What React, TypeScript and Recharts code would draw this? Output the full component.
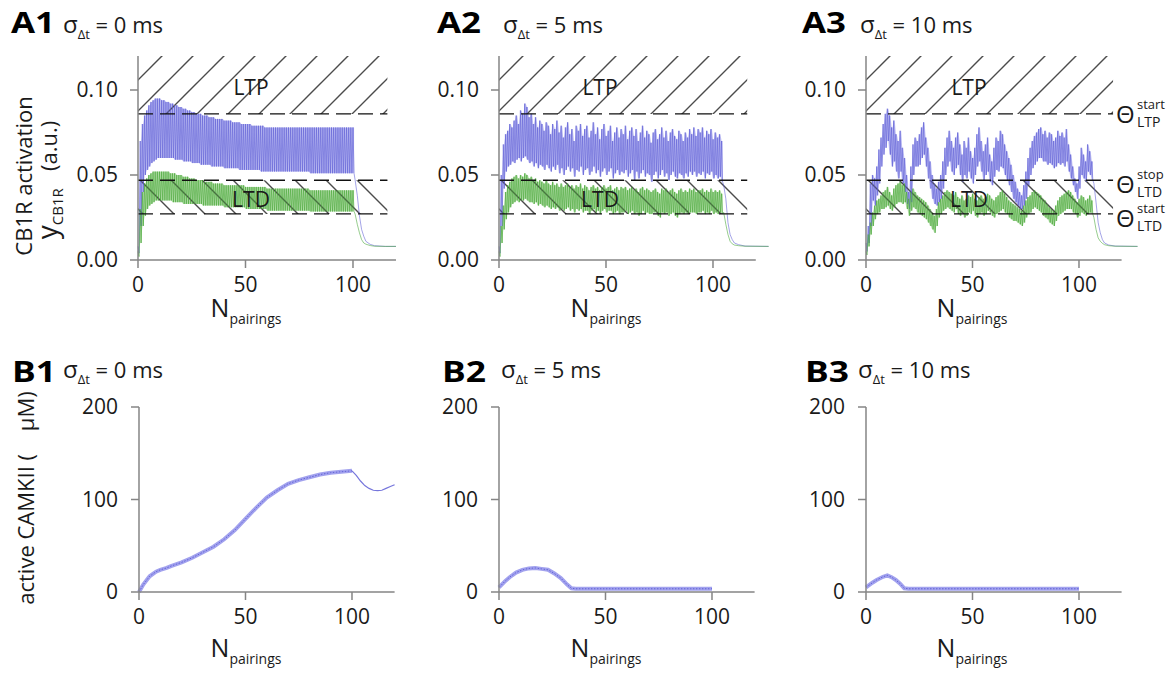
import React from "react"
import { ComposedChart, Line, Area, XAxis, YAxis, ReferenceArea, ReferenceLine } from "recharts"

const FONT = "'Open Sans', 'DejaVu Sans', sans-serif"
const BLUE = "#5c5cd4"
const BLUE_BAND = "#aeaef0"
const GREEN = "#45a534"
const GREEN_BAND = "#a6d79a"
const AXIS = "#858585"
const INK = "#1a1a1a"

// thresholds of the CB1R activation (a.u.)
const THETA_LTP_START = 0.0859
const THETA_LTD_STOP = 0.0469
const THETA_LTD_START = 0.0271

const A_Y_TICKS = [0, 0.05, 0.1]
const B_Y_TICKS = [0, 100, 200]
const X_TICKS = [0, 50, 100]

// ---- A1, sigma = 0 ms : peak / trough of each pairing ----
const A1_BLUE_HI = [
  0.008, 0.070, 0.080, 0.085, 0.088, 0.091, 0.093, 0.094, 0.095, 0.095,
  0.095, 0.094, 0.094, 0.093, 0.093, 0.092, 0.092, 0.091, 0.091, 0.090,
  0.090, 0.089, 0.089, 0.088, 0.088, 0.087, 0.087, 0.086, 0.086, 0.086,
  0.085, 0.085, 0.085, 0.084, 0.084, 0.084, 0.083, 0.083, 0.083, 0.083,
  0.082, 0.082, 0.082, 0.082, 0.081, 0.081, 0.081, 0.081, 0.080, 0.080,
  0.080, 0.080, 0.080, 0.079, 0.079, 0.079, 0.079, 0.079, 0.079, 0.078,
  0.078, 0.078, 0.078, 0.078, 0.078, 0.078, 0.078, 0.078, 0.078, 0.078,
  0.078, 0.078, 0.078, 0.078, 0.078, 0.078, 0.078, 0.078, 0.078, 0.078,
  0.078, 0.078, 0.078, 0.078, 0.078, 0.078, 0.078, 0.078, 0.078, 0.078,
  0.078, 0.078, 0.078, 0.078, 0.078, 0.078, 0.078, 0.078, 0.078, 0.078,
  0.078,
]
const A1_BLUE_LO = [
  0.004, 0.020, 0.040, 0.050, 0.053, 0.055, 0.057, 0.058, 0.059, 0.060,
  0.060, 0.060, 0.060, 0.060, 0.060, 0.060, 0.060, 0.059, 0.059, 0.059,
  0.059, 0.058, 0.058, 0.058, 0.058, 0.057, 0.057, 0.057, 0.057, 0.056,
  0.056, 0.056, 0.056, 0.056, 0.055, 0.055, 0.055, 0.055, 0.055, 0.055,
  0.054, 0.054, 0.054, 0.054, 0.054, 0.054, 0.054, 0.053, 0.053, 0.053,
  0.053, 0.053, 0.053, 0.053, 0.053, 0.053, 0.053, 0.052, 0.052, 0.052,
  0.052, 0.052, 0.052, 0.052, 0.052, 0.052, 0.052, 0.052, 0.052, 0.052,
  0.052, 0.052, 0.052, 0.052, 0.052, 0.052, 0.052, 0.052, 0.052, 0.052,
  0.051, 0.051, 0.051, 0.051, 0.051, 0.051, 0.051, 0.051, 0.051, 0.051,
  0.051, 0.051, 0.051, 0.051, 0.051, 0.051, 0.051, 0.051, 0.051, 0.051,
  0.051,
]
const A1_GREEN_HI = [
  0.005, 0.030, 0.040, 0.045, 0.048, 0.050, 0.051, 0.052, 0.052, 0.052,
  0.052, 0.052, 0.052, 0.052, 0.052, 0.051, 0.051, 0.051, 0.050, 0.050,
  0.050, 0.049, 0.049, 0.049, 0.048, 0.048, 0.048, 0.047, 0.047, 0.047,
  0.047, 0.046, 0.046, 0.046, 0.046, 0.045, 0.045, 0.045, 0.045, 0.045,
  0.044, 0.044, 0.044, 0.044, 0.044, 0.044, 0.044, 0.044, 0.044, 0.044,
  0.043, 0.043, 0.043, 0.043, 0.043, 0.043, 0.043, 0.043, 0.043, 0.043,
  0.042, 0.042, 0.042, 0.042, 0.042, 0.042, 0.042, 0.042, 0.042, 0.042,
  0.042, 0.042, 0.042, 0.042, 0.042, 0.042, 0.042, 0.042, 0.042, 0.042,
  0.041, 0.041, 0.041, 0.041, 0.041, 0.041, 0.041, 0.041, 0.041, 0.041,
  0.041, 0.041, 0.041, 0.041, 0.041, 0.041, 0.041, 0.041, 0.041, 0.041,
  0.041,
]
const A1_GREEN_LO = [
  0.002, 0.010, 0.020, 0.026, 0.030, 0.032, 0.033, 0.034, 0.035, 0.035,
  0.035, 0.035, 0.035, 0.035, 0.035, 0.035, 0.034, 0.034, 0.034, 0.034,
  0.034, 0.033, 0.033, 0.033, 0.033, 0.033, 0.033, 0.033, 0.033, 0.033,
  0.032, 0.032, 0.032, 0.032, 0.032, 0.032, 0.032, 0.032, 0.032, 0.032,
  0.031, 0.031, 0.031, 0.031, 0.031, 0.031, 0.031, 0.031, 0.031, 0.031,
  0.030, 0.030, 0.030, 0.030, 0.030, 0.030, 0.030, 0.030, 0.030, 0.030,
  0.029, 0.029, 0.029, 0.029, 0.029, 0.029, 0.029, 0.029, 0.029, 0.029,
  0.029, 0.029, 0.029, 0.029, 0.029, 0.029, 0.029, 0.029, 0.029, 0.029,
  0.0285, 0.0285, 0.0285, 0.0285, 0.0285, 0.0285, 0.0285, 0.0285, 0.0285, 0.0285,
  0.0285, 0.0285, 0.0285, 0.0285, 0.0285, 0.0285, 0.0285, 0.0285, 0.0285, 0.0285,
  0.0285,
]
const A1_TAIL_X = [101, 102, 103, 104, 105, 106, 108, 110, 115, 120]
const A1_TAIL_BLUE = [0.047, 0.038, 0.026, 0.018, 0.014, 0.011, 0.0092, 0.0084, 0.008, 0.008]
const A1_TAIL_GREEN = [0.027, 0.021, 0.016, 0.012, 0.010, 0.0093, 0.0085, 0.0081, 0.008, 0.008]

// ---- A2, sigma = 5 ms ----
const A2_BLUE_HI = [
  0.008, 0.050, 0.068, 0.074, 0.076, 0.080, 0.078, 0.082, 0.085, 0.080,
  0.088, 0.086, 0.092, 0.090, 0.084, 0.086, 0.080, 0.084, 0.078, 0.082,
  0.080, 0.076, 0.081, 0.079, 0.074, 0.080, 0.077, 0.082, 0.075, 0.079,
  0.072, 0.078, 0.081, 0.074, 0.077, 0.070, 0.079, 0.076, 0.080, 0.073,
  0.077, 0.079, 0.072, 0.076, 0.081, 0.074, 0.078, 0.071, 0.077, 0.080,
  0.073, 0.076, 0.079, 0.070, 0.075, 0.078, 0.072, 0.077, 0.074, 0.079,
  0.071, 0.076, 0.078, 0.073, 0.077, 0.070, 0.075, 0.079, 0.072, 0.076,
  0.074, 0.069, 0.075, 0.077, 0.071, 0.074, 0.078, 0.072, 0.076, 0.070,
  0.075, 0.077, 0.073, 0.071, 0.076, 0.074, 0.070, 0.075, 0.072, 0.077,
  0.074, 0.078, 0.073, 0.077, 0.075, 0.078, 0.072, 0.076, 0.074, 0.077,
  0.071, 0.075, 0.072, 0.074, 0.070,
]
const A2_BLUE_LO = [
  0.004, 0.020, 0.042, 0.052, 0.055, 0.056, 0.058, 0.057, 0.059, 0.060,
  0.058, 0.060, 0.061, 0.059, 0.057, 0.058, 0.055, 0.057, 0.054, 0.056,
  0.055, 0.053, 0.056, 0.054, 0.052, 0.055, 0.053, 0.056, 0.051, 0.054,
  0.050, 0.053, 0.055, 0.052, 0.054, 0.049, 0.053, 0.052, 0.055, 0.050,
  0.053, 0.054, 0.050, 0.052, 0.055, 0.051, 0.053, 0.049, 0.052, 0.054,
  0.050, 0.052, 0.054, 0.048, 0.051, 0.053, 0.050, 0.052, 0.051, 0.053,
  0.049, 0.051, 0.053, 0.047, 0.052, 0.048, 0.051, 0.053, 0.049, 0.051,
  0.050, 0.046, 0.050, 0.052, 0.048, 0.050, 0.053, 0.049, 0.051, 0.047,
  0.050, 0.052, 0.049, 0.048, 0.051, 0.050, 0.048, 0.051, 0.049, 0.052,
  0.050, 0.052, 0.049, 0.051, 0.050, 0.052, 0.048, 0.051, 0.050, 0.052,
  0.048, 0.050, 0.048, 0.049, 0.046,
]
const A2_GREEN_HI = [
  0.005, 0.020, 0.032, 0.040, 0.044, 0.046, 0.048, 0.049, 0.050, 0.048,
  0.050, 0.049, 0.051, 0.050, 0.048, 0.049, 0.047, 0.048, 0.046, 0.047,
  0.046, 0.045, 0.047, 0.045, 0.044, 0.046, 0.044, 0.045, 0.043, 0.045,
  0.043, 0.044, 0.045, 0.043, 0.044, 0.042, 0.044, 0.043, 0.045, 0.042,
  0.044, 0.043, 0.041, 0.043, 0.044, 0.042, 0.043, 0.041, 0.043, 0.044,
  0.042, 0.043, 0.044, 0.041, 0.042, 0.043, 0.041, 0.043, 0.042, 0.043,
  0.041, 0.042, 0.043, 0.041, 0.042, 0.040, 0.042, 0.043, 0.041, 0.042,
  0.041, 0.040, 0.041, 0.042, 0.040, 0.039, 0.042, 0.041, 0.042, 0.040,
  0.041, 0.042, 0.040, 0.039, 0.041, 0.042, 0.040, 0.041, 0.040, 0.042,
  0.041, 0.042, 0.040, 0.041, 0.041, 0.042, 0.040, 0.041, 0.040, 0.042,
  0.040, 0.041, 0.040, 0.041, 0.039,
]
const A2_GREEN_LO = [
  0.002, 0.010, 0.018, 0.024, 0.028, 0.031, 0.033, 0.034, 0.035, 0.034,
  0.035, 0.035, 0.036, 0.035, 0.034, 0.034, 0.033, 0.034, 0.032, 0.033,
  0.032, 0.031, 0.032, 0.031, 0.030, 0.031, 0.030, 0.031, 0.029, 0.030,
  0.029, 0.030, 0.031, 0.029, 0.030, 0.028, 0.030, 0.029, 0.030, 0.028,
  0.029, 0.029, 0.027, 0.029, 0.030, 0.028, 0.029, 0.027, 0.029, 0.030,
  0.028, 0.029, 0.029, 0.027, 0.028, 0.029, 0.027, 0.028, 0.028, 0.029,
  0.027, 0.028, 0.029, 0.027, 0.028, 0.026, 0.027, 0.029, 0.027, 0.028,
  0.027, 0.027, 0.028, 0.028, 0.026, 0.025, 0.028, 0.027, 0.028, 0.026,
  0.027, 0.028, 0.026, 0.025, 0.027, 0.028, 0.027, 0.028, 0.027, 0.028,
  0.028, 0.028, 0.027, 0.028, 0.028, 0.029, 0.027, 0.028, 0.027, 0.029,
  0.027, 0.028, 0.027, 0.028, 0.027,
]
const A2_TAIL_X = [105, 106, 107, 108, 109, 110, 112, 115, 126]
const A2_TAIL_BLUE = [0.044, 0.036, 0.022, 0.015, 0.012, 0.010, 0.009, 0.0082, 0.008]
const A2_TAIL_GREEN = [0.028, 0.021, 0.015, 0.011, 0.0095, 0.0088, 0.0084, 0.0081, 0.008]

// ---- A3, sigma = 10 ms ----
const A3_BLUE_HI = [
  0.010, 0.020, 0.045, 0.050, 0.048, 0.055, 0.065, 0.072, 0.080, 0.086,
  0.089, 0.085, 0.078, 0.082, 0.074, 0.070, 0.076, 0.066, 0.060, 0.050,
  0.040, 0.055, 0.068, 0.072, 0.070, 0.074, 0.078, 0.081, 0.072, 0.066,
  0.058, 0.050, 0.045, 0.042, 0.046, 0.050, 0.058, 0.066, 0.072, 0.076,
  0.070, 0.066, 0.072, 0.075, 0.068, 0.062, 0.070, 0.066, 0.072, 0.064,
  0.060, 0.066, 0.074, 0.078, 0.070, 0.064, 0.068, 0.072, 0.062, 0.058,
  0.066, 0.072, 0.070, 0.076, 0.074, 0.068, 0.064, 0.060, 0.056, 0.050,
  0.046, 0.042, 0.040, 0.038, 0.044, 0.052, 0.060, 0.066, 0.070, 0.073,
  0.075, 0.077, 0.078, 0.074, 0.076, 0.072, 0.075, 0.074, 0.070, 0.072,
  0.076, 0.073, 0.075, 0.072, 0.077, 0.068, 0.062, 0.055, 0.048, 0.045,
  0.055, 0.066, 0.062, 0.058, 0.068, 0.064, 0.058,
]
const A3_BLUE_LO = [
  0.005, 0.010, 0.020, 0.035, 0.032, 0.038, 0.045, 0.055, 0.062, 0.066,
  0.070, 0.062, 0.055, 0.058, 0.052, 0.048, 0.052, 0.045, 0.040, 0.033,
  0.030, 0.034, 0.050, 0.055, 0.055, 0.056, 0.060, 0.062, 0.055, 0.048,
  0.042, 0.036, 0.033, 0.032, 0.034, 0.036, 0.042, 0.050, 0.055, 0.058,
  0.052, 0.050, 0.054, 0.056, 0.050, 0.046, 0.050, 0.048, 0.052, 0.048,
  0.045, 0.050, 0.055, 0.058, 0.052, 0.047, 0.050, 0.052, 0.046, 0.044,
  0.049, 0.053, 0.052, 0.055, 0.054, 0.050, 0.047, 0.044, 0.040, 0.036,
  0.034, 0.032, 0.030, 0.030, 0.032, 0.036, 0.044, 0.050, 0.054, 0.056,
  0.058, 0.060, 0.060, 0.058, 0.058, 0.056, 0.057, 0.056, 0.054, 0.055,
  0.057, 0.056, 0.057, 0.055, 0.058, 0.052, 0.048, 0.044, 0.040, 0.036,
  0.042, 0.050, 0.048, 0.046, 0.052, 0.050, 0.047,
]
const A3_GREEN_HI = [
  0.005, 0.015, 0.022, 0.028, 0.032, 0.035, 0.036, 0.038, 0.040, 0.041,
  0.043, 0.040, 0.038, 0.042, 0.044, 0.045, 0.046, 0.044, 0.045, 0.040,
  0.036, 0.040, 0.042, 0.040, 0.038, 0.037, 0.036, 0.035, 0.034, 0.032,
  0.030, 0.028, 0.026, 0.030, 0.034, 0.036, 0.038, 0.040, 0.041, 0.040,
  0.039, 0.038, 0.040, 0.037, 0.036, 0.038, 0.035, 0.036, 0.038, 0.037,
  0.039, 0.036, 0.035, 0.037, 0.038, 0.036, 0.037, 0.039, 0.038, 0.036,
  0.035, 0.037, 0.038, 0.040, 0.041, 0.039, 0.037, 0.035, 0.034, 0.033,
  0.032, 0.031, 0.030, 0.029, 0.032, 0.035, 0.037, 0.038, 0.040, 0.041,
  0.040, 0.039, 0.038, 0.036, 0.035, 0.033, 0.031, 0.030, 0.029, 0.032,
  0.035, 0.037, 0.038, 0.039, 0.040, 0.041, 0.040, 0.038, 0.036, 0.034,
  0.036, 0.038, 0.037, 0.035, 0.036, 0.038, 0.035,
]
const A3_GREEN_LO = [
  0.003, 0.008, 0.015, 0.020, 0.024, 0.027, 0.028, 0.030, 0.030, 0.031,
  0.032, 0.030, 0.029, 0.031, 0.033, 0.034, 0.034, 0.033, 0.034, 0.030,
  0.026, 0.029, 0.031, 0.030, 0.028, 0.027, 0.026, 0.025, 0.024, 0.022,
  0.020, 0.018, 0.016, 0.020, 0.025, 0.027, 0.029, 0.030, 0.031, 0.030,
  0.029, 0.028, 0.030, 0.027, 0.026, 0.028, 0.025, 0.026, 0.028, 0.027,
  0.029, 0.026, 0.025, 0.027, 0.028, 0.026, 0.027, 0.029, 0.028, 0.026,
  0.025, 0.027, 0.028, 0.029, 0.030, 0.028, 0.027, 0.025, 0.024, 0.023,
  0.023, 0.022, 0.021, 0.020, 0.022, 0.025, 0.027, 0.028, 0.030, 0.031,
  0.030, 0.029, 0.028, 0.026, 0.025, 0.024, 0.022, 0.021, 0.020, 0.023,
  0.026, 0.027, 0.028, 0.029, 0.030, 0.030, 0.030, 0.028, 0.027, 0.025,
  0.026, 0.028, 0.027, 0.026, 0.027, 0.028, 0.027,
]
const A3_TAIL_X = [107, 108, 109, 110, 111, 112, 114, 117, 127.5]
const A3_TAIL_BLUE = [0.045, 0.034, 0.022, 0.016, 0.012, 0.010, 0.0088, 0.0082, 0.008]
const A3_TAIL_GREEN = [0.025, 0.018, 0.013, 0.011, 0.0098, 0.009, 0.0084, 0.0081, 0.008]

// ---- B: active CaMKII (uM) ----
const B1_X = [0, 2, 5, 8, 10, 13, 15, 20, 25, 30, 35, 40, 45, 50, 55, 60, 65, 70, 75, 80, 85, 90, 95, 100]
const B1_CAMKII = [0, 8, 17, 22, 24, 26, 28, 32, 37, 43, 49, 57, 67, 79, 91, 102, 110, 117, 121, 124, 127, 129, 130, 131]
const B1_AFTER_X = [100, 102, 104, 106, 108, 110, 112, 114, 116, 118, 120]
const B1_AFTER = [131, 126, 120, 115, 112, 110, 109.5, 110, 112, 114, 116]
const B2_X = [0, 3, 5, 8, 11, 14, 17, 20, 23, 26, 29, 32, 34, 36, 40, 50, 60, 70, 80, 90, 100]
const B2_CAMKII = [5, 12, 16, 21, 24, 25.5, 26, 25, 24, 20, 15, 8, 4, 3.5, 3.5, 3.5, 3.5, 3.5, 3.5, 3.5, 3.5]
const B3_X = [0, 3, 5, 8, 10, 12, 14, 16, 18, 20, 30, 40, 50, 60, 70, 80, 90, 100]
const B3_CAMKII = [5, 10, 13, 16.5, 18, 16, 13, 9, 4, 3.5, 3.5, 3.5, 3.5, 3.5, 3.5, 3.5, 3.5, 3.5]

type Row = {
  x: number
  blue?: number
  green?: number
  blueBand?: number[]
  greenBand?: number[]
  on?: number
  off?: number
}

function pairingRows(bHi: number[], bLo: number[], gHi: number[], gLo: number[], tx: number[], tb: number[], tg: number[]) {
  const rows: Row[] = []
  bHi.forEach((b, i) => {
    const blueBand = [bLo[i], b]
    const greenBand = [gLo[i], gHi[i]]
    rows.push({ x: i, blue: b, green: gHi[i], blueBand, greenBand })
    rows.push({ x: i + 0.5, blue: bLo[i], green: gLo[i], blueBand, greenBand })
  })
  tx.forEach((x, i) => rows.push({ x, blue: tb[i], green: tg[i] }))
  return rows
}

function camkRows(xs: number[], on: number[], afterX: number[] = [], after: number[] = []) {
  const rows: Row[] = xs.map((x, i) => ({ x, on: on[i] }))
  afterX.forEach((x, i) => {
    if (i === 0) rows[rows.length - 1].off = after[0]
    else rows.push({ x, off: after[i] })
  })
  return rows
}

const tickStyle = { fontSize: 21, fill: INK, fontFamily: FONT }
const axisStroke = { stroke: AXIS, strokeWidth: 1.5 }

function APanel({ x0, scale, rows }: { x0: number; scale: number; rows: Row[] }) {
  const plotW = 128 * scale
  return (
    <div style={{ position: "absolute", left: x0 - 80, top: 36 }}>
      <ComposedChart width={80 + plotW + 10} height={20 + 204 + 40} data={rows}
        margin={{ top: 20, right: 10, bottom: 0, left: 0 }}>
        <XAxis dataKey="x" type="number" domain={[0, 128]} ticks={X_TICKS} axisLine={false}
          tickLine={axisStroke} tickSize={8} tickMargin={9} tick={tickStyle} height={40} />
        <YAxis type="number" domain={[0, 0.12]} ticks={A_Y_TICKS} width={80} axisLine={axisStroke}
          tickLine={axisStroke} tickSize={8} tickMargin={12} tick={tickStyle}
          tickFormatter={(v: number) => v.toFixed(2)} />
        <Area dataKey="blueBand" type="linear" fill={BLUE_BAND} fillOpacity={0.85} stroke="none" isAnimationActive={false} activeDot={false} />
        <Area dataKey="greenBand" type="linear" fill={GREEN_BAND} fillOpacity={0.85} stroke="none" isAnimationActive={false} activeDot={false} />
        <Line dataKey="blue" stroke={BLUE} strokeWidth={0.7} strokeOpacity={0.8} dot={false} activeDot={false} isAnimationActive={false} />
        <Line dataKey="green" stroke={GREEN} strokeWidth={0.7} strokeOpacity={0.8} dot={false} activeDot={false} isAnimationActive={false} />
        <ReferenceArea x1={0} x2={116} y1={THETA_LTP_START} y2={0.12} fill="url(#hatchUp)" fillOpacity={1} stroke="none" />
        <ReferenceArea x1={0} x2={116} y1={THETA_LTD_START} y2={THETA_LTD_STOP} fill="url(#hatchDown)" fillOpacity={1} stroke="none" />
        {[THETA_LTP_START, THETA_LTD_STOP, THETA_LTD_START].map((t) => (
          <ReferenceLine key={t} segment={[{ x: 0, y: t }, { x: 116, y: t }]} stroke="#111" strokeWidth={1.3} strokeDasharray="15 7" />
        ))}
        <ReferenceLine segment={[{ x: 0, y: 0 }, { x: 120, y: 0 }]} stroke={AXIS} strokeWidth={1.5} />
      </ComposedChart>
    </div>
  )
}

function BPanel({ x0, scale, rows }: { x0: number; scale: number; rows: Row[] }) {
  const plotW = 120 * scale
  return (
    <div style={{ position: "absolute", left: x0 - 80, top: 387 }}>
      <ComposedChart width={80 + plotW + 10} height={20 + 185 + 40} data={rows}
        margin={{ top: 20, right: 10, bottom: 0, left: 0 }}>
        <XAxis dataKey="x" type="number" domain={[0, 120]} ticks={X_TICKS} axisLine={axisStroke}
          tickLine={axisStroke} tickSize={8} tickMargin={9} tick={tickStyle} height={40} />
        <YAxis type="number" domain={[0, 200]} ticks={B_Y_TICKS} width={80} axisLine={axisStroke}
          tickLine={axisStroke} tickSize={8} tickMargin={13} tick={tickStyle} />
        <Line dataKey="on" stroke="#a2a2ee" strokeWidth={4} dot={false} activeDot={false} isAnimationActive={false} />
        <Line dataKey="on" stroke="#6262d6" strokeWidth={1} strokeDasharray="1.5 1.5" dot={false} activeDot={false} isAnimationActive={false} />
        <Line dataKey="off" stroke="#7676dc" strokeWidth={1.2} dot={false} activeDot={false} isAnimationActive={false} />
      </ComposedChart>
    </div>
  )
}

function Npairings({ cx, y }: { cx: number; y: number }) {
  return (
    <text x={cx} y={y} textAnchor="middle" fill={INK}>
      <tspan fontSize={25}>N</tspan>
      <tspan fontSize={14} dy={7}>pairings</tspan>
    </text>
  )
}

function Sigma({ x, y, ms }: { x: number; y: number; ms: number }) {
  return (
    <text x={x} y={y} fill={INK} style={{ whiteSpace: "pre" }}>
      <tspan fontSize={24}>σ</tspan>
      <tspan fontSize={13} dy={6}>Δt</tspan>
      <tspan fontSize={22} dy={-6}>{` = ${ms} ms`}</tspan>
    </text>
  )
}

function Theta({ x, y, sup, sub }: { x: number; y: number; sup: string; sub: string }) {
  return (
    <g fill={INK}>
      <text x={x} y={y} fontSize={24}>Θ</text>
      <text x={x + 21} y={y - 14} fontSize={13}>{sup}</text>
      <text x={x + 21} y={y + 4} fontSize={14}>{sub}</text>
    </g>
  )
}

function Title({ x, y, label }: { x: number; y: number; label: string }) {
  return (
    <text x={x} y={y} fontSize={28} fontWeight={700} fill="#000" textLength={44} lengthAdjust="spacingAndGlyphs">
      {label}
    </text>
  )
}

export default function App() {
  const a1 = pairingRows(A1_BLUE_HI, A1_BLUE_LO, A1_GREEN_HI, A1_GREEN_LO, A1_TAIL_X, A1_TAIL_BLUE, A1_TAIL_GREEN)
  const a2 = pairingRows(A2_BLUE_HI, A2_BLUE_LO, A2_GREEN_HI, A2_GREEN_LO, A2_TAIL_X, A2_TAIL_BLUE, A2_TAIL_GREEN)
  const a3 = pairingRows(A3_BLUE_HI, A3_BLUE_LO, A3_GREEN_HI, A3_GREEN_LO, A3_TAIL_X, A3_TAIL_BLUE, A3_TAIL_GREEN)
  const b1 = camkRows(B1_X, B1_CAMKII, B1_AFTER_X, B1_AFTER)
  const b2 = camkRows(B2_X, B2_CAMKII)
  const b3 = camkRows(B3_X, B3_CAMKII)

  return (
    <div style={{ position: "absolute", left: 0, top: 0, width: 1176, height: 677, background: "#fff", fontFamily: FONT, overflow: "hidden" }}>
      <svg width={0} height={0} style={{ position: "absolute" }}>
        <defs>
          <pattern id="hatchUp" patternUnits="userSpaceOnUse" width={31} height={31}>
            <path d="M-8,8 L8,-8 M0,31 L31,0 M23,39 L39,23" stroke="#4a4a4a" strokeWidth={1.4} />
          </pattern>
          <pattern id="hatchDown" patternUnits="userSpaceOnUse" width={31} height={31}>
            <path d="M-8,23 L8,39 M0,0 L31,31 M23,-8 L39,8" stroke="#4a4a4a" strokeWidth={1.4} />
          </pattern>
        </defs>
      </svg>

      <APanel x0={138} scale={2.15} rows={a1} />
      <APanel x0={499} scale={2.14} rows={a2} />
      <APanel x0={866} scale={2.13} rows={a3} />
      <BPanel x0={139} scale={2.13} rows={b1} />
      <BPanel x0={499} scale={2.13} rows={b2} />
      <BPanel x0={866} scale={2.13} rows={b3} />

      <svg width={1176} height={677} style={{ position: "absolute", left: 0, top: 0, pointerEvents: "none", fontFamily: FONT }}>
        <Title x={11} y={33} label="A1" />
        <Title x={437} y={33} label="A2" />
        <Title x={802} y={33} label="A3" />
        <Title x={12} y={382} label="B1" />
        <Title x={442} y={382} label="B2" />
        <Title x={805} y={382} label="B3" />
        <Sigma x={63} y={33} ms={0} />
        <Sigma x={503} y={33} ms={5} />
        <Sigma x={860} y={33} ms={10} />
        <Sigma x={63} y={378} ms={0} />
        <Sigma x={501} y={378} ms={5} />
        <Sigma x={858} y={378} ms={10} />

        <g fontSize={21} fill={INK} textAnchor="middle">
          <text x={251} y={95}>LTP</text>
          <text x={251} y={207}>LTD</text>
          <text x={600} y={95}>LTP</text>
          <text x={600} y={207}>LTD</text>
          <text x={969} y={95}>LTP</text>
          <text x={969} y={207}>LTD</text>
        </g>

        <Theta x={1116} y={123} sup="start" sub="LTP" />
        <Theta x={1116} y={193} sup="stop" sub="LTD" />
        <Theta x={1116} y={227} sup="start" sub="LTD" />

        <text x={32} y={176} fontSize={22} fill={INK} textAnchor="middle" transform="rotate(-90 32 176)">CB1R activation</text>
        <text x={57} y={180} fill={INK} textAnchor="middle" transform="rotate(-90 57 180)" style={{ whiteSpace: "pre" }}>
          <tspan fontSize={28}>y</tspan>
          <tspan fontSize={15} dy={6}>CB1R</tspan>
          <tspan fontSize={22} dy={-6}>{"   (a.u.)"}</tspan>
        </text>
        <text x={34} y={498} fontSize={22} fill={INK} textAnchor="middle" transform="rotate(-90 34 498)" style={{ whiteSpace: "pre" }}>
          {"active CAMKII (    μM)"}
        </text>

        <Npairings cx={246} y={317} />
        <Npairings cx={606} y={317} />
        <Npairings cx={972} y={317} />
        <Npairings cx={246} y={657} />
        <Npairings cx={606} y={657} />
        <Npairings cx={972} y={657} />
      </svg>
    </div>
  )
}
